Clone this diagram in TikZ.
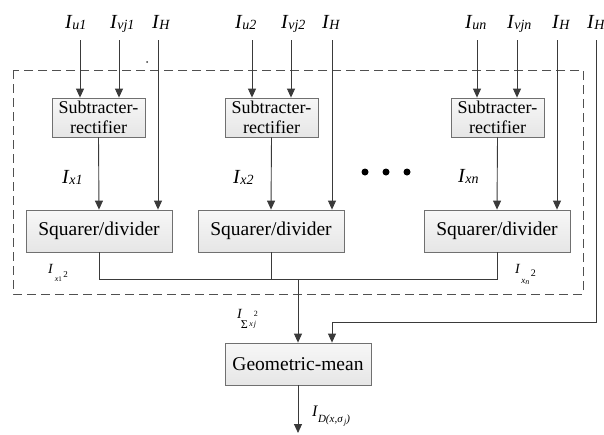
\documentclass[tikz,border=0pt]{standalone}
\usepackage{fontspec}
\setmainfont{Liberation Serif}
\usetikzlibrary{arrows.meta}
\definecolor{linec}{HTML}{3A3A3A}
\definecolor{boxc}{HTML}{707070}
\definecolor{boxt}{HTML}{F7F7F7}
\definecolor{boxb}{HTML}{E6E6E6}
\definecolor{dashc}{HTML}{505050}
\newcommand{\Ilab}[1]{I\kern0.5pt\raisebox{-1.5pt}{\fontsize{14}{14}\selectfont #1}}
\newcommand{\fsz}[1]{\fontsize{#1}{#1}\selectfont}
\begin{document}
\begin{tikzpicture}[x=1pt,y=-1pt,
 line/.style={draw=linec, line width=0.9pt},
 arr/.style={line, -{Triangle[length=9pt,width=8pt]}},
 blk/.style={draw=boxc, line width=0.8pt, top color=boxt, bottom color=boxb, inner sep=0pt, align=center, font=\fontsize{19.5}{20.5}\selectfont},
 sblk/.style={blk, font=\fontsize{18}{20}\selectfont, minimum width=93pt, minimum height=39pt},
 qblk/.style={blk, minimum width=146pt, minimum height=42pt},
 lab/.style={anchor=base west, inner sep=0pt, font=\fontsize{20}{20}\selectfont\itshape},
 slab/.style={anchor=base west, inner sep=0pt, font=\fontsize{14}{14}\selectfont\itshape}]
\useasboundingbox (0,0) rectangle (604,434);

% dashed group
\draw[dashc, line width=0.8pt, dash pattern=on 9pt off 5pt] (13,70) rectangle (583,294);

% blocks
\node[sblk] (s1) at (98.5,117.5) {Subtracter-\\rectifier};
\node[sblk] (s2) at (271.5,117.5) {Subtracter-\\rectifier};
\node[sblk] (sn) at (497.5,117.5) {Subtracter-\\rectifier};
\node[qblk] (q1) at (99,231) {Squarer/divider};
\node[qblk] (q2) at (271,231) {Squarer/divider};
\node[qblk] (qn) at (497,231) {Squarer/divider};
\node[qblk] (g) at (298,364) {Geometric-mean};

% top labels
\node[lab] (lu1) at (65,28) {\Ilab{u1}};
\node[lab] (lv1) at (110,28) {\Ilab{vj1}};
\node[lab] (lh1) at (152,28) {\Ilab{H}};
\node[lab] (lu2) at (235,28) {\Ilab{u2}};
\node[lab] (lv2) at (281,28) {\Ilab{vj2}};
\node[lab] (lh2) at (322,28) {\Ilab{H}};
\node[lab] (lun) at (465,28) {\Ilab{un}};
\node[lab] (lvn) at (507,28) {\Ilab{vjn}};
\node[lab] (lhn) at (552,28) {\Ilab{H}};
\node[lab] (lhg) at (587,28) {\Ilab{H}};

% start points
\coordinate (a1) at (80,40);
\coordinate (b1) at (119,40);
\coordinate (h1) at (158,40);
\coordinate (a2) at (252,40);
\coordinate (b2) at (291,40);
\coordinate (h2) at (332,40);
\coordinate (an) at (477,40);
\coordinate (bn) at (517,40);
\coordinate (hn) at (557,40);
\coordinate (hg) at (596,40);

\draw[arr] (a1) -- (a1 |- s1.north);
\draw[arr] (b1) -- (b1 |- s1.north);
\draw[arr] (h1) -- (h1 |- q1.north);
\draw[arr] (a2) -- (a2 |- s2.north);
\draw[arr] (b2) -- (b2 |- s2.north);
\draw[arr] (h2) -- (h2 |- q2.north);
\draw[arr] (an) -- (an |- sn.north);
\draw[arr] (bn) -- (bn |- sn.north);
\draw[arr] (hn) -- (hn |- qn.north);

\draw[arr] (s1.south) -- (q1.north);
\draw[arr] (s2.south) -- (q2.north);
\draw[arr] (sn.south) -- (qn.north);

% stray dot
\fill[linec] (147,62) circle (1pt);

% Ix labels
\node[lab] (x1) at (62,183) {\Ilab{x1}};
\node[lab] (x2) at (233,183) {\Ilab{x2}};
\node[lab] (xn) at (458,182) {\Ilab{xn}};

% dots
\fill (365,172) circle (3.5pt);
\fill (386,172) circle (3.5pt);
\fill (407,172) circle (3.5pt);

% collect
\coordinate (j1) at (99,279);
\coordinate (jn) at (497,279);
\coordinate (jm) at (298,279);
\draw[line] (q1.south) -- (j1) -- (jn) -- (qn.south);
\draw[line] (q2.south) -- (q2.south |- j1);
\draw[arr] (jm) -- (g.north);

% right H input
\coordinate (c1) at (596,322);
\coordinate (c2) at (332,322);
\draw[arr] (hg) -- (c1) -- (c2) -- (c2 |- g.north);

% output
\coordinate (o) at (298,433);
\draw[arr] (g.south) -- (o);

% small labels
\node[slab] (lx1) at (48,273) {I\kern2pt\raisebox{-8pt}{\fsz{8}x\raisebox{-0.5pt}{\fsz{7}\upshape 1}}\kern1.5pt\raisebox{-4pt}{\fsz{9}\upshape 2}};
\node[slab] (lxn) at (515,273) {I\kern1.5pt\raisebox{-10pt}{\fsz{9}x\raisebox{-1pt}{\fsz{8}n}}\kern1.5pt\raisebox{-3pt}{\fsz{10}\upshape 2}};
\node[slab] (lsig) at (237,318) {I\kern-1pt\raisebox{-10pt}{\fsz{12}\upshape Σ}\kern1.5pt\raisebox{-8pt}{\fsz{8}x}\kern1pt\rlap{\raisebox{2pt}{\fsz{8}\upshape 2}}\raisebox{-8pt}{\fsz{8}j}};
\node[slab, font=\fsz{16}\itshape] (ld) at (312,416) {I\kern0.5pt\raisebox{-6pt}{\fsz{11}D(x,σ\raisebox{-2.5pt}{\fsz{8}\,j})}};
\end{tikzpicture}
\end{document}
